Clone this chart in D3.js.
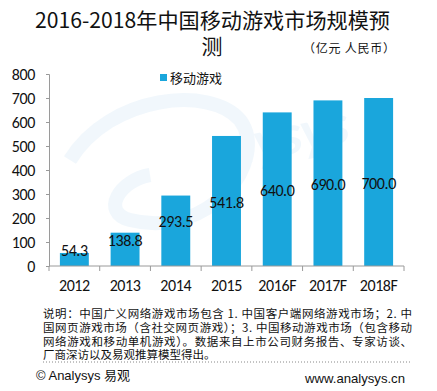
<!DOCTYPE html>
<html>
<head>
<meta charset="utf-8">
<title>中国移动游戏市场规模</title>
<style>
    body { margin: 0; background: #fff; }
    text { font-family: "Carlito", "Liberation Sans", "Noto Sans CJK SC", sans-serif; }
    .num { letter-spacing: -0.4px; }
    .cjk { font-family: "Noto Sans CJK SC", sans-serif; letter-spacing: 0; }
</style>
<script src="https://d3js.org/d3.v7.min.js"></script>
</head>
<body>
<script>

    let years = ["2012", "2013", "2014", "2015", "2016F", "2017F", "2018F"];
    let mobileGame = [54.3, 138.8, 293.5, 541.8, 640.0, 690.0, 700.0];
    let yTicks = [0, 100, 200, 300, 400, 500, 600, 700, 800];
    let seriesName = "移动游戏";
    let titleLines = ["2016-2018年中国移动游戏市场规模预", "测"];
    let unitText = "（亿元 人民币）";
    let noteLines = [
        "说明：中国广义网络游戏市场包含 1. 中国客户端网络游戏市场；2. 中",
        "国网页游戏市场（含社交网页游戏）；3. 中国移动游戏市场（包含移动",
        "网络游戏和移动单机游戏）。数据来自上市公司财务报告、专家访谈、",
        "厂商深访以及易观推算模型得出。"
    ];

    let width = 437, height = 391;
    let barColor = "#1aa6dc";

    let svg = d3.select("body").append("svg")
        .attr("width", width)
        .attr("height", height);

    // faint watermark
    let wm = svg.append("g").attr("opacity", 0.6);
    wm.append("path")
        .attr("d", "M70,160 C110,95 210,85 240,120 C270,160 210,240 130,220 C100,212 120,180 150,175")
        .attr("fill", "none").attr("stroke", "#e8f3fb").attr("stroke-width", 14);
    wm.append("text")
        .attr("x", 215).attr("y", 170)
        .attr("transform", "rotate(-12,215,170)")
        .attr("font-size", 56).attr("font-style", "italic").attr("font-weight", "bold")
        .attr("fill", "#e8f3fb")
        .text("alysys");

    let x = d3.scaleBand()
        .domain(years)
        .range([49, 404]);

    let y = d3.scaleLinear()
        .domain([0, 800])
        .range([266, 74]);

    let barW = x.bandwidth() * 0.57;

    svg.append("g")
        .selectAll("rect")
        .data(mobileGame)
        .join("rect")
            .attr("x", (d, i) => x(years[i]) + (x.bandwidth() - barW) / 2)
            .attr("y", d => y(d))
            .attr("width", barW)
            .attr("height", d => y(0) - y(d))
            .attr("fill", barColor);

    // value labels, the first three sit a bit above the bar middle
    svg.append("g")
        .selectAll("text")
        .data(mobileGame)
        .join("text")
            .attr("class", "num")
            .attr("x", (d, i) => x(years[i]) + x.bandwidth() / 2)
            .attr("y", (d, i) => y(d / 2) + (i < 3 ? -9 : 1))
            .attr("dy", "0.35em")
            .attr("text-anchor", "middle")
            .attr("font-size", 16)
            .attr("fill", "#111")
            .text(d => d.toFixed(1));

    // y axis
    let yAxis = svg.append("g")
        .attr("transform", "translate(49,0)")
        .call(d3.axisLeft(y).tickValues(yTicks).tickSize(3).tickPadding(11));
    yAxis.selectAll("text").attr("class", "num").attr("font-size", 16).attr("fill", "#111")
        .style("font-family", "Carlito, 'Liberation Sans', sans-serif");
    yAxis.selectAll("line, path").attr("stroke", "#9a9a9a");

    // x axis with ticks between categories
    let xg = svg.append("g").attr("transform", "translate(0,266)");
    xg.append("line")
        .attr("x1", x.range()[0]).attr("x2", x.range()[1])
        .attr("stroke", "#9a9a9a");
    xg.selectAll("line.tk")
        .data(years.concat(["end"]))
        .join("line")
            .attr("class", "tk")
            .attr("x1", (d, i) => i < years.length ? x(d) : x.range()[1])
            .attr("x2", (d, i) => i < years.length ? x(d) : x.range()[1])
            .attr("y1", 0).attr("y2", 5)
            .attr("stroke", "#9a9a9a");
    xg.selectAll("text")
        .data(years)
        .join("text")
            .attr("class", "num")
            .attr("x", d => x(d) + x.bandwidth() / 2)
            .attr("y", 25)
            .attr("text-anchor", "middle")
            .attr("font-size", 16)
            .attr("fill", "#111")
            .text(d => d);

    // legend
    svg.append("rect")
        .attr("x", 160).attr("y", 74).attr("width", 7).attr("height", 7)
        .attr("fill", barColor);
    svg.append("text").attr("class", "cjk")
        .attr("x", 170).attr("y", 82.5)
        .attr("font-size", 13).attr("fill", "#111")
        .text(seriesName);

    // title
    svg.append("text").attr("class", "cjk")
        .attr("x", 212.5).attr("y", 28)
        .attr("text-anchor", "middle")
        .attr("font-size", 21).attr("fill", "#111")
        .attr("textLength", 355).attr("lengthAdjust", "spacingAndGlyphs")
        .text(titleLines[0]);
    svg.append("text").attr("class", "cjk")
        .attr("x", 212).attr("y", 54)
        .attr("text-anchor", "middle")
        .attr("font-size", 21).attr("fill", "#111")
        .text(titleLines[1]);
    svg.append("text").attr("class", "cjk")
        .attr("x", 303).attr("y", 53)
        .attr("font-size", 12).attr("fill", "#111")
        .attr("textLength", 92).attr("lengthAdjust", "spacing")
        .text(unitText);

    // footnote
    svg.append("g")
        .selectAll("text")
        .data(noteLines)
        .join("text")
            .attr("class", "cjk")
            .attr("x", 43)
            .attr("y", (d, i) => 318 + i * 13.8)
            .attr("font-size", 11.5)
            .attr("fill", "#111")
            .each(function(d, i) {
                if (i < noteLines.length - 1) {
                    d3.select(this).attr("textLength", 369).attr("lengthAdjust", "spacing");
                }
            })
            .text(d => d);

    svg.append("line")
        .attr("x1", 43).attr("x2", 410)
        .attr("y1", 362).attr("y2", 362)
        .attr("stroke", "#888").attr("stroke-dasharray", "1,2");

    svg.append("text")
        .attr("x", 36).attr("y", 380)
        .attr("font-size", 13).attr("fill", "#111")
        .style("font-family", "'Liberation Sans', 'Noto Sans CJK SC', sans-serif")
        .text("© Analysys 易观");
    svg.append("text")
        .attr("x", 405).attr("y", 383)
        .attr("text-anchor", "end")
        .attr("font-size", 13).attr("fill", "#111")
        .attr("textLength", 100).attr("lengthAdjust", "spacingAndGlyphs")
        .style("font-family", "'Liberation Sans', sans-serif")
        .text("www.analysys.cn");

</script>
</body>
</html>
